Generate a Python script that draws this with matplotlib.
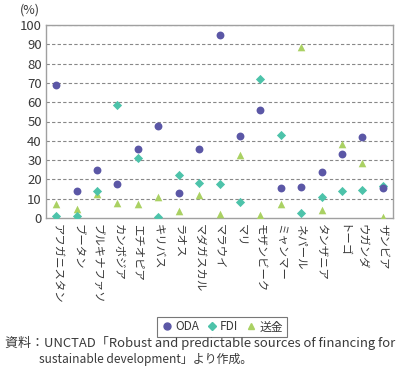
import matplotlib
matplotlib.use("Agg")
import matplotlib.pyplot as plt
from matplotlib.lines import Line2D

plt.rcParams['font.family'] = ['Noto Sans CJK JP', 'DejaVu Sans']

countries = ["アフガニスタン", "ブータン", "ブルキナファソ", "カンボジア", "エチオピア", "キリバス",
             "ラオス", "マダガスカル", "マラウイ", "マリ", "モザンビーク", "ミャンマー",
             "ネパール", "タンザニア", "トーゴ", "ウガンダ", "ザンビア"]
oda = [69, 14, 25, 17.5, 36, 47.5, 13, 36, 95, 42.5, 56, 15.5, 16, 24, 33, 42, 15.5]
fdi = [1, 1, 14, 58.5, 31, 0.5, 22.5, 18, 17.5, 8.5, 72, 43, 2.5, 11, 14, 14.5, 16.5]
remit = [7.5, 4.5, 12.5, 8, 7, 11, 3.5, 12, 2, 32.5, 1.5, 7, 88.5, 4, 38.5, 28.5, 0.5]
yticks = list(range(0, 101, 10))

c_oda = "#5b57a6"
c_fdi = "#4dc3aa"
c_rem = "#aad163"
txt = "#3a3a3a"

fig = plt.figure(figsize=(4.15, 3.74), dpi=100)
ax = fig.add_axes([46/415, 1-218/374, (393-46)/415, (218-25)/374])

x = [i + 0.5 for i in range(len(countries))]
ax.scatter(x, remit, marker="^", s=30, color=c_rem, zorder=3, linewidths=0)
ax.scatter(x, fdi, marker="D", s=22, color=c_fdi, zorder=4, linewidths=0)
ax.scatter(x, oda, marker="o", s=32, color=c_oda, zorder=5, linewidths=0)

ax.set_xlim(0, len(countries))
ax.set_ylim(0, 100)
ax.set_yticks(yticks)
ax.set_yticklabels([str(v) for v in yticks], fontsize=9.5, color=txt)
ax.set_xticks(x)
ax.set_xticklabels(countries, rotation=-90, fontsize=8.2, color=txt, va="top", ha="center")
ax.tick_params(axis="both", length=0, pad=3)
ax.tick_params(axis="x", pad=4)
for yv in yticks[1:]:
    ax.axhline(yv, color="#888888", lw=0.8, ls=(0, (3, 2)), zorder=1)
for s in ax.spines.values():
    s.set_color("#a0a0a0")
    s.set_linewidth(1.0)

fig.text(20/415, 1-10/374, "(%)", fontsize=9, color=txt, va="center", ha="left")

handles = [Line2D([], [], marker="o", ls="", color=c_oda, markersize=5, label="ODA"),
           Line2D([], [], marker="D", ls="", color=c_fdi, markersize=4, label="FDI"),
           Line2D([], [], marker="^", ls="", color=c_rem, markersize=5, label="送金")]
leg = fig.legend(handles=handles, loc="center", bbox_to_anchor=(222/415, 1-327/374), ncol=3,
                 fontsize=8.5, frameon=True, fancybox=False, edgecolor="#555555",
                 handletextpad=0.2, columnspacing=0.6, borderpad=0.3, handlelength=1.0,
                 borderaxespad=0)
leg.get_frame().set_linewidth(0.8)
for t in leg.get_texts():
    t.set_color(txt)

fig.text(5/415, 1-343/374, "資料：UNCTAD「Robust and predictable sources of financing for",
         fontsize=9.4, color=txt, va="center", ha="left")
fig.text(39/415, 1-359/374, "sustainable development」より作成。",
         fontsize=8.6, color=txt, va="center", ha="left")

fig.savefig("out.png", dpi=100)
